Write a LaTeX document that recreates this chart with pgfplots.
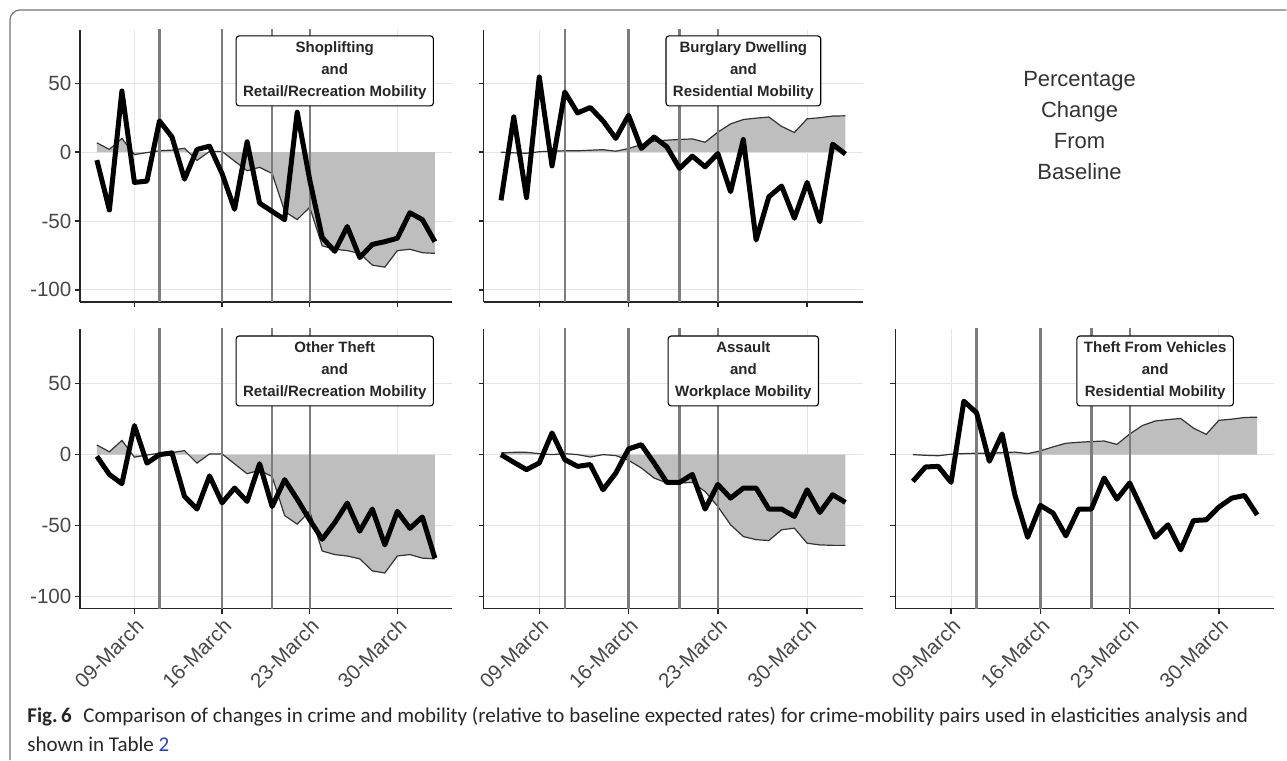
\documentclass[border=0pt]{standalone}
\usepackage{fontspec}
\setmainfont{Liberation Sans}
\newfontfamily\capfont{Carlito}
\usepackage{pgfplots}
\usepackage{pgfplotstable}
\usepgfplotslibrary{fillbetween}
\pgfplotsset{compat=1.18}

\definecolor{fillgray}{RGB}{190,190,190}
\definecolor{evgray}{RGB}{125,125,125}
\definecolor{capblue}{RGB}{40,60,230}

\pgfplotstableread{
day retail resid work shop burg other assault tfv
6 6.8 0 1.2 -5.8 -35 -1.2 0 -18.9
7 2 -0.5 1.6 -42 25.6 -14 -5.4 -8.7
8 10 -0.8 1.6 44.4 -33 -20.5 -10.6 -8.3
9 -1.8 0.3 0.7 -22 54.6 20.5 -5.9 -19.6
10 -0.3 0.7 0 -21 -10 -6 15.3 37.7
11 1 1 0.7 22.7 43.7 0 -3.5 29.5
12 1.5 1 0 11 28.5 1.2 -8.3 -4.7
13 2.8 1.4 -1.7 -19.6 32.4 -29.5 -7 14.6
14 -6 1.8 0 2 22.7 -38.4 -24.8 -28.3
15 0.5 0.7 -0.7 4.3 10 -15 -13 -58.3
16 0.5 2.6 -4 -15.5 26.8 -34 4 -35.8
17 -6.5 5.5 -9.4 -41.5 2.7 -23.6 7 -41.3
18 -13.5 8 -16.5 7.5 11 -33 -5.9 -57.3
19 -11 8.7 -20 -37 3.9 -6.4 -19.6 -38.4
20 -15.5 9.2 -20 -43 -11.8 -36.6 -19.6 -38.4
21 -43 9.6 -19.6 -49 -2.9 -17.7 -14 -16.5
22 -49 7.2 -26 29 -10.6 -31.4 -38.4 -31.4
23 -40 14.5 -36.6 -20 -1 -46 -21 -20
24 -68 20.5 -49.5 -62 -28.7 -59.7 -30.7 -39
25 -70.5 23.7 -57.8 -72 9.2 -48 -23.6 -58.3
26 -71.5 24.7 -60 -54 -63.8 -34.2 -23.6 -49.5
27 -73.5 25.5 -60.6 -76.5 -32.4 -54 -38.4 -67.2
28 -82 18.7 -53 -67 -24.6 -38.4 -38.4 -46.5
29 -83.5 14.3 -51.9 -65 -48 -63.7 -43.6 -46
30 -71.5 24.2 -62.5 -62.5 -22 -40 -24.8 -37
31 -70.5 25 -63.7 -44 -50.5 -52 -40.8 -30.7
32 -73 26.2 -64 -49 5.8 -44 -28.3 -28.8
33 -73.5 26.4 -64 -65 -1.4 -73 -33.7 -42.5
}\data

\pgfplotsset{
  panel/.style={
    scale only axis,
    anchor=north west,
    xmin=4.65, xmax=34.35, ymin=-108.7, ymax=88.7,
    axis x line=bottom, axis y line=left,
    axis line style={-, line width=0.7pt, black!85},
    xtick={9,16,23,30}, ytick={-100,-50,0,50},
    tick align=outside, major tick length=2.6pt,
    tick style={line width=0.7pt, black!85},
    grid=major, major grid style={line width=0.5pt, black!10},
    ticklabel style={font=\fontsize{10.3}{12}\selectfont, text=black!72},
    yticklabel style={inner sep=1.5pt},
    xticklabel style={rotate=45, anchor=north east, inner sep=1pt},
    clip=true,
  },
  mob/.style={line width=0.6pt, black!80},
  crime/.style={line width=2.5pt, black, line join=round},
  ev/.style={line width=1.15pt, evgray},
}
\tikzset{
  lab/.style={draw=black, line width=0.55pt, rounded corners=1.5pt, fill=white,
    align=center, font=\bfseries\fontsize{7.5}{11}\selectfont, text=black!85,
    inner xsep=3.5pt, inner ysep=3pt},
}

\newcommand{\events}{%
  \addplot[ev] coordinates {(11,-200) (11,200)};
  \addplot[ev] coordinates {(16,-200) (16,200)};
  \addplot[ev] coordinates {(20,-200) (20,200)};
  \addplot[ev] coordinates {(23,-200) (23,200)};
}
\newcommand{\mobfill}[1]{%
  \addplot[name path=m, draw=none] table[x=day,y=#1]{\data};
  \addplot[name path=z, draw=none] coordinates {(6,0) (33,0)};
  \addplot[fill=fillgray, draw=none] fill between[of=m and z];
  \addplot[mob] table[x=day,y=#1]{\data};
}

\begin{document}
\begin{tikzpicture}
\path (0,0) rectangle (643.5pt,-380.5pt);

% frame
\draw[black!55, line width=0.6pt, rounded corners=5pt] (5pt,-380.2pt) -- (5pt,-5pt) -- (643.5pt,-5pt);

% Panel 1
\begin{axis}[panel, at={(40pt,-15pt)}, width=186pt, height=136pt,
  xticklabels={}, yticklabels={-100,-50,0,50}]
\mobfill{retail}
\events
\addplot[crime] table[x=day,y=shop]{\data};
\node[lab] at (axis cs:25,59) {Shoplifting\\and\\Retail/Recreation Mobility};
\end{axis}

% Panel 2
\begin{axis}[panel, at={(242pt,-15pt)}, width=189.5pt, height=136pt,
  xticklabels={}, yticklabels={}]
\mobfill{resid}
\events
\addplot[crime] table[x=day,y=burg]{\data};
\node[lab] at (axis cs:25,59) {Burglary Dwelling\\and\\Residential Mobility};
\end{axis}

% Panel 4
\begin{axis}[panel, at={(40pt,-164.5pt)}, width=186pt, height=140pt,
  xticklabels={09-March,16-March,23-March,30-March}, yticklabels={-100,-50,0,50}]
\mobfill{retail}
\events
\addplot[crime] table[x=day,y=other]{\data};
\node[lab] at (axis cs:25,59) {Other Theft\\and\\Retail/Recreation Mobility};
\end{axis}

% Panel 5
\begin{axis}[panel, at={(242pt,-164.5pt)}, width=189.5pt, height=140pt,
  xticklabels={09-March,16-March,23-March,30-March}, yticklabels={}]
\mobfill{work}
\events
\addplot[crime] table[x=day,y=assault]{\data};
\node[lab] at (axis cs:25,59) {Assault\\and\\Workplace Mobility};
\end{axis}

% Panel 6
\begin{axis}[panel, at={(448pt,-164.5pt)}, width=189.5pt, height=140pt,
  xticklabels={09-March,16-March,23-March,30-March}, yticklabels={}]
\mobfill{resid}
\events
\addplot[crime] table[x=day,y=tfv]{\data};
\node[lab] at (axis cs:25,59) {Theft From Vehicles\\and\\Residential Mobility};
\end{axis}

% side text
\node[align=center, font=\fontsize{11}{15.5}\selectfont, text=black!80] at (540pt,-63pt)
  {Percentage\\Change\\From\\Baseline};

% caption
\node[anchor=base west, inner sep=0pt, font=\capfont\fontsize{10.5}{14.5}\selectfont, text=black!85]
  at (13.5pt,-361.5pt) {\textbf{Fig.\,6}\hspace{0.55em}Comparison of changes in crime and mobility (relative to baseline expected rates) for crime-mobility pairs used in elasticities analysis and};
\node[anchor=base west, inner sep=0pt, font=\capfont\fontsize{10.5}{14.5}\selectfont, text=black!85]
  at (13.5pt,-376pt) {shown in Table \textcolor{capblue}{2}};
\end{tikzpicture}
\end{document}
